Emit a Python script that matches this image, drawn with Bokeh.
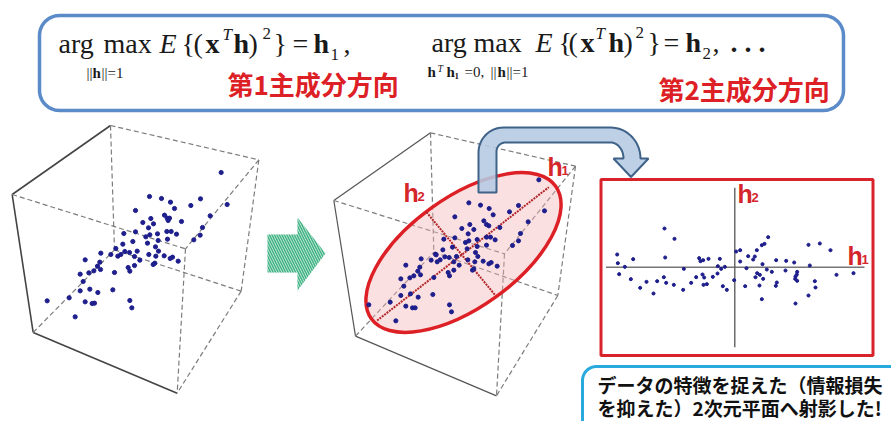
import numpy as np
from bokeh.plotting import figure
from bokeh.models import Range1d
from bokeh.core.properties import value
from bokeh.embed import file_html
from bokeh.resources import INLINE

# Scatter readings (1/3 px units within each panel)
left_x = [662,680,447,483,510,522,571,600,405,629,492,500,507,503,451,427,459,444,543,606,599,580,370,405,448,436,471,499,512,528,501,473,397,367,441,465,346,474,373,387,410,301,331,352,361,402,445,466,491,516,509,533,418,254,298,291,402,383,388,300,280,265,239,342,463,458,248,239,268,292,337,206,140,254,275,282,388,394,224]
left_y = [156,252,228,234,245,264,255,235,270,286,284,293,293,300,294,306,310,322,303,321,344,358,339,334,343,349,340,333,333,341,356,360,363,371,368,379,384,392,393,396,392,398,402,407,402,408,402,407,406,410,414,422,419,418,425,437,435,441,452,447,451,457,461,456,428,432,483,511,506,516,508,532,541,544,549,548,540,562,589]
mid_x = [715,732,505,540,566,578,627,654,463,683,550,558,565,508,484,520,503,598,660,654,636,430,463,505,495,530,558,570,584,558,530,456,427,500,525,405,407,532,433,446,468,362,392,410,419,460,502,523,548,572,565,590,476,316,358,352,460,443,447,360,340,328,301,400,520,516,310,301,330,353,397,269,205,316,336,344,447,453,286]
mid_y = [178,271,247,254,264,283,274,255,289,304,301,312,316,312,324,327,340,321,339,361,375,356,352,361,366,357,350,350,358,374,378,380,388,385,396,401,403,408,409,411,408,415,419,424,418,424,418,424,422,426,430,437,434,434,440,452,449,456,466,463,466,472,475,471,445,449,497,525,520,530,522,545,553,557,562,562,553,574,601]
proj_x = [222,252,80,82,128,103,86,121,149,168,200,189,224,220,227,250,278,280,302,317,336,341,339,349,326,330,338,354,388,382,392,403,381,367,397,409,431,437,449,449,473,468,493,488,499,514,522,533,516,529,544,557,587,611,585,620,619,615,614,620,559,556,500,495,508,518,507,464,514,615,654,675,673,658,654,688,720,738,789]
proj_y = [174,205,252,278,266,289,311,326,352,334,332,369,261,320,337,343,358,295,337,320,312,321,343,341,263,272,269,265,265,287,295,289,309,319,347,358,329,243,239,273,257,293,258,267,239,224,220,200,281,297,304,269,271,276,300,304,312,318,325,331,336,346,308,320,313,325,345,347,386,399,375,351,332,285,223,219,239,313,308]

title_left = "第1主成分方向"
title_right = "第2主成分方向"
note_line1 = "データの特徴を捉えた（情報損失"
note_line2 = "を抑えた）2次元平面へ射影した!"

RED = "#dd2025"
p = figure(width=891, height=421, x_range=Range1d(0, 891), y_range=Range1d(421, 0),
           x_axis_type=None, y_axis_type=None, toolbar_location=None,
           output_backend="svg", min_border=0, outline_line_color=None,
           background_fill_color="white", border_fill_color="white")
p.grid.visible = False


def rounded(l, t, r, b, rad):
    xs, ys = [], []
    for cx, cy, a0 in [(r-rad, t+rad, -90), (r-rad, b-rad, 0), (l+rad, b-rad, 90), (l+rad, t+rad, 180)]:
        a = np.radians(np.linspace(a0, a0+90, 14))
        xs += list(cx+rad*np.cos(a)); ys += list(cy+rad*np.sin(a))
    return xs+xs[:1], ys+ys[:1]


def arc(cx, cy, rx, ry, a0, a1):
    a = np.radians(np.linspace(a0, a1, 16))
    return list(cx+rx*np.cos(a)), list(cy+ry*np.sin(a))


def txt(x, y, s, size, font="Liberation Serif", style="normal", color="#1a1a1a", baseline="alphabetic"):
    # Bokeh's SVG text sits about 0.35 em below the requested baseline
    if baseline == "alphabetic":
        y = y - 0.35*size
    p.text([x], [y], text=[s], text_font=value(font), text_font_size=f"{size}px",
           text_font_style=style, text_color=color, text_baseline=baseline, text_align="left")


def cube(ox, oy, pts, lw, solid):
    P = {k: (ox+v[0]/3, oy+v[1]/3) for k, v in pts.items()}
    for a, b in ["AB", "AE", "EH"]:
        p.line([P[a][0], P[b][0]], [P[a][1], P[b][1]], line_color=solid, line_width=lw)
    for a, b in ["BC", "AD", "CD", "DH", "BF", "CG", "EF", "FG", "GH"]:
        p.line([P[a][0], P[b][0]], [P[a][1], P[b][1]], line_color="#7c7c7c", line_width=1.2, line_dash="5 3")


# top box
bx, by = rounded(39, 15, 843, 110, 20)
p.line(bx, by, line_color="#5b8bc9", line_width=3.5)

# formula pieces
for x, y, s, size, style in [
    (58, 53, "arg", 28, "normal"), (103, 53, "max", 28, "normal"), (159, 53, "E", 28, "italic"),
    (181, 53, "{", 28, "normal"), (193, 53, "(", 28, "normal"), (205, 53, "x", 28, "bold"),
    (222, 40, "T", 17, "italic"), (233, 53, "h", 28, "bold"), (248, 53, ")", 28, "normal"),
    (262, 39, "2", 17, "normal"), (273, 53, "}", 28, "normal"), (292, 53, "=", 28, "normal"),
    (313, 53, "h", 28, "bold"), (330, 60, "1", 17, "normal"), (343, 53, ",", 28, "normal"),
    (431, 52, "arg", 28, "normal"), (473, 52, "max", 28, "normal"), (535, 52, "E", 28, "italic"),
    (558, 52, "{", 28, "normal"), (568, 52, "(", 28, "normal"), (580, 52, "x", 28, "bold"),
    (595, 39, "T", 17, "italic"), (608, 52, "h", 28, "bold"), (623, 52, ")", 28, "normal"),
    (635, 38, "2", 17, "normal"), (647, 52, "}", 28, "normal"), (663, 52, "=", 28, "normal"),
    (685, 52, "h", 28, "bold"), (702, 59, "2", 17, "normal"), (712, 52, ",", 28, "normal"),
    (730, 52, ". . .", 28, "bold"),
    (86, 78, "||", 15, "normal"), (92, 78, "h", 15, "bold"), (101, 78, "||=1", 15, "normal"),
    (427, 77, "h", 15, "bold"), (437, 71, "T", 10, "italic"), (446, 77, "h", 15, "bold"),
    (454, 79, "1", 9, "bold"), (464, 77, "=0,", 15, "normal"), (490, 77, "||", 15, "normal"),
    (497, 77, "h", 15, "bold"), (506, 77, "||=1", 15, "normal"),
]:
    txt(x, y, s, size, style=style)

txt(227, 82.5, title_left, 26, font="Noto Sans CJK JP", style="bold", color=RED, baseline="middle")
txt(658, 87.5, title_right, 26, font="Noto Sans CJK JP", style="bold", color=RED, baseline="middle")

# left cube
cube(0, 120, dict(A=(35,222), B=(330,15), C=(775,118), D=(555,385), E=(98,636), F=(342,388), G=(722,512), H=(530,818)), 1.6, "#444444")
p.scatter(np.array(left_x)/3, 120+np.array(left_y)/3, size=4.2, color="#1e1e8c")

# green arrow
p.patch([267, 297, 297, 325, 297, 297, 267], [234, 234, 217, 253, 290, 272, 272],
        fill_color="#d5f0e2", line_color=None, hatch_pattern="left_diagonal_line",
        hatch_color="#45b488", hatch_scale=5, hatch_weight=1.6)

# middle cube
cube(300, 120, dict(A=(100,240), B=(390,37), C=(825,137), D=(612,400), E=(165,647), F=(400,395), G=(772,525), H=(588,826)), 1.2, "#555555")
p.ellipse([463], [252], width=[227], height=[110], angle=[35.7], angle_units="deg",
          fill_color="#f3b4b4", fill_alpha=0.42, line_color=RED, line_width=3.5)
p.line([300+230/3, 300+745/3], [120+600/3, 120+200/3], line_color="#b3262a", line_width=2, line_dash="2 1")
p.line([300+378/3, 300+585/3], [120+275/3, 120+525/3], line_color="#b3262a", line_width=2, line_dash="2 1")
p.scatter(300+np.array(mid_x)/3, 120+np.array(mid_y)/3, size=4.1, color="#1e1e8c")

# bent arrow
ax = [478, 478]; ay = [192, 152]
x_, y_ = arc(503, 152, 25, 25, 180, 270); ax += x_; ay += y_
x_, y_ = arc(610, 158, 30, 31, 270, 360); ax += x_; ay += y_
ax += [648, 630.5, 613, 623]; ay += [158, 176.5, 158, 158]
x_, y_ = arc(610, 158, 13, 16, 0, -90); ax += x_; ay += y_
x_, y_ = arc(505, 151, 9, 9, 270, 180); ax += x_; ay += y_
ax += [496]; ay += [192]
p.patch(ax, ay, fill_color="#b5cae3", fill_alpha=0.88, line_color="#3f6288", line_width=2)

# labels h in the middle panel
for x, y, s, size in [(547, 175, "h", 25), (561, 175, "1", 13), (403, 201, "h", 25), (417, 201, "2", 13)]:
    txt(x, y, s, size, font="Liberation Sans", style="bold", color="#d4262b")

# projection panel
p.quad(left=[600.5], right=[872.5], top=[179], bottom=[355], fill_color="white",
       line_color="#d8232a", line_width=3)
p.line([605.5, 864], [266.7, 266.7], line_color="#777777", line_width=1.5)
p.line([734.3, 734.3], [187.3, 346.7], line_color="#555555", line_width=1.3)
p.scatter(590+np.array(proj_x)/3, 170+np.array(proj_y)/3, size=3.1, color="#1e1e8c")
for x, y, s, size in [(737, 202, "h", 25), (751, 202, "2", 13), (847, 264, "h", 25), (861, 264, "1", 13)]:
    txt(x, y, s, size, font="Liberation Sans", style="bold", color="#d4262b")

# note callout
nx, ny = rounded(582, 366, 930, 450, 14)
p.line(nx, ny, line_color="#2aa9de", line_width=3)
txt(597, 383.5, note_line1, 19, font="Noto Sans CJK JP", style="bold", color="#111111", baseline="middle")
txt(597, 406.5, note_line2, 19, font="Noto Sans CJK JP", style="bold", color="#111111", baseline="middle")

open("out.html", "w").write(file_html(p, INLINE))
